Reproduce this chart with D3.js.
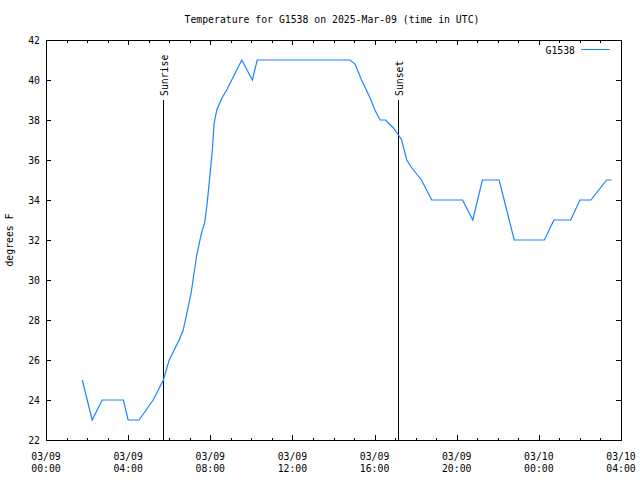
<!DOCTYPE html>
<html><head><meta charset="utf-8">
<script src="https://cdn.jsdelivr.net/npm/d3@7"></script>
<style>
body{margin:0;background:#fff;}
text{font-family:"DejaVu Sans Mono","Liberation Mono",monospace;font-size:9.8px;fill:#000;}
</style></head>
<body><svg id="c" width="640" height="480"></svg>
<script>
const title = "Temperature for G1538 on 2025-Mar-09 (time in UTC)";
const seriesName = "G1538";
const times = ["03/09 01:46","03/09 02:15","03/09 02:44","03/09 03:46","03/09 04:00","03/09 04:32","03/09 05:13","03/09 05:43",
"03/09 06:00","03/09 06:29","03/09 06:41","03/09 07:04","03/09 07:20","03/09 07:33","03/09 07:44","03/09 07:51","03/09 07:59",
"03/09 08:06","03/09 08:11","03/09 08:19","03/09 08:34","03/09 08:48","03/09 09:32","03/09 10:03","03/09 10:17","03/09 14:48",
"03/09 15:03","03/09 15:22","03/09 15:47","03/09 16:01","03/09 16:16","03/09 16:32","03/09 16:55","03/09 17:10","03/09 17:19",
"03/09 17:34","03/09 17:49","03/09 18:03","03/09 18:17","03/09 18:47","03/09 20:17","03/09 20:47","03/09 21:15","03/09 22:04",
"03/09 22:48","03/10 00:16","03/10 00:44","03/10 01:33","03/10 02:00","03/10 02:32","03/10 03:18","03/10 03:32"];
const temps = [25,23,24,24,23,23,24,25,
26,27,27.5,29.35,31.2,32.25,32.9,33.85,35.25,
36.5,37.8,38.5,39.1,39.5,41,40,41,41,
40.8,40,39.1,38.5,38,38,37.6,37.25,37,
36,35.6,35.3,35,34,34,33,35,35,
32,32,33,33,34,34,35,35];
const xTickLabels = [["03/09","00:00"],["03/09","04:00"],["03/09","08:00"],["03/09","12:00"],["03/09","16:00"],["03/09","20:00"],["03/10","00:00"],["03/10","04:00"]];
const yTicks = [22,24,26,28,30,32,34,36,38,40,42];
const events = [{name:"Sunrise", time:"03/09 05:42"},{name:"Sunset", time:"03/09 17:08"}];
const xStart = "03/09 00:00", xEnd = "03/10 04:00";

const parse = d3.timeParse("%m/%d %H:%M");
const pt = s => { const d = parse(s); d.setFullYear(2025); return d; };
const data = times.map((t,i)=>({t:pt(t), v:temps[i]}));

const L=46, R=621, T=40, B=440;
const svg = d3.select("#c");
const x = d3.scaleTime().domain([pt(xStart), pt(xEnd)]).range([L,R]);
const y = d3.scaleLinear().domain([22,42]).range([B,T]);

svg.append("text").attr("x",332).attr("y",23).attr("text-anchor","middle").text(title);
svg.append("text").attr("transform","translate(13,240) rotate(-90)").attr("text-anchor","middle").text("degrees F");

const g = svg.append("g").attr("shape-rendering","crispEdges");
const hours = d3.timeHour.every(1).range(pt(xStart), d3.timeHour.offset(pt(xEnd),1));
hours.forEach(h=>{
  const major = h.getHours()%4===0;
  const len = major?5:2.5;
  const xx = Math.round(x(h))+0.5;
  g.append("line").attr("x1",xx).attr("x2",xx).attr("y1",B).attr("y2",B-len).attr("stroke","#000");
  g.append("line").attr("x1",xx).attr("x2",xx).attr("y1",T).attr("y2",T+len).attr("stroke","#000");
});
const majors = d3.timeHour.every(4).range(pt(xStart), d3.timeHour.offset(pt(xEnd),1));
majors.forEach((h,i)=>{
  const lab = xTickLabels[i]; if(!lab) return;
  const t = svg.append("text").attr("x",x(h)).attr("y",460).attr("text-anchor","middle");
  t.append("tspan").attr("x",x(h)).attr("dy",0).text(lab[0]);
  t.append("tspan").attr("x",x(h)).attr("dy",12).text(lab[1]);
});
yTicks.forEach(v=>{
  const yy = Math.round(y(v))+0.5;
  g.append("line").attr("x1",L).attr("x2",L+5).attr("y1",yy).attr("y2",yy).attr("stroke","#000");
  g.append("line").attr("x1",R-5).attr("x2",R).attr("y1",yy).attr("y2",yy).attr("stroke","#000");
  svg.append("text").attr("x",40).attr("y",y(v)+4).attr("text-anchor","end").text(v);
});
g.append("rect").attr("x",L+0.5).attr("y",T+0.5).attr("width",R-L).attr("height",B-T).attr("fill","none").attr("stroke","#000");

events.forEach(e=>{
  const xx = Math.round(x(pt(e.time)))+0.5;
  g.append("line").attr("x1",xx).attr("x2",xx).attr("y1",y(39)).attr("y2",B).attr("stroke","#000");
  svg.append("text").attr("transform",`translate(${xx+4},${y(39)-4}) rotate(-90)`).attr("text-anchor","start").text(e.name);
});

const line = d3.line().x(d=>x(d.t)).y(d=>y(d.v));
svg.append("path").datum(data).attr("d",line).attr("fill","none").attr("stroke","#1a84ff").attr("stroke-width",1.2);

svg.append("text").attr("x",575).attr("y",54).attr("text-anchor","end").text(seriesName);
g.append("line").attr("x1",581).attr("x2",610).attr("y1",49.5).attr("y2",49.5).attr("stroke","#1a84ff");
</script></body></html>
